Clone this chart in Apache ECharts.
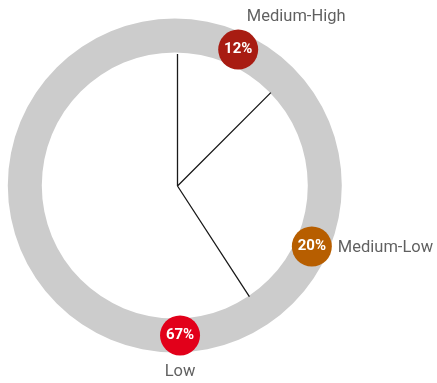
<!DOCTYPE html>
<html>
<head>
<meta charset="utf-8">
<script src="https://cdn.jsdelivr.net/npm/echarts@6/dist/echarts.min.js"></script>
<style>
  html, body { margin: 0; padding: 0; background: #ffffff; }
  #chart { width: 437px; height: 383px; }
</style>
</head>
<body>
<div id="chart"></div>
<script>
// Risk categories and their shares (percent)
const categories = ['Medium-High', 'Medium-Low', 'Low'];
const shares = [12, 20, 67];
// Where each badge sits on the ring, degrees clockwise from 12 o'clock
const badgeAngles = [25, 114, 178];
// Spokes drawn inside the ring, degrees clockwise from 12 o'clock
const spokeAngles = [0, 45, 147];

const badgeColors = ['#a81c12', '#b75e00', '#e2001a'];
const RING_OUTER = 167;
const RING_INNER = 133;
const RING_MID = (RING_OUTER + RING_INNER) / 2;
const FONT = 'Roboto, "Open Sans", sans-serif';

// Name label placement around each badge
const namePlacement = [
  { position: 'top', distance: 4, offset: [58, 0] },
  { position: 'right', distance: 6, offset: [0, 1] },
  { position: 'bottom', distance: 8, offset: [0, 0] }
];

const chart = echarts.init(document.getElementById('chart'), null, { renderer: 'canvas' });

// Spoke path: each tip on the ring joined back through the hub
const spokeData = [];
spokeAngles.forEach(function (a) {
  spokeData.push([RING_INNER - 1, a]);
  spokeData.push([0, a]);
});

const badgeData = categories.map(function (name, i) {
  return {
    name: name,
    value: [RING_MID, badgeAngles[i], shares[i]],
    itemStyle: { color: badgeColors[i], opacity: 1 }
  };
});

const nameData = categories.map(function (name, i) {
  return {
    name: name,
    value: [RING_MID, badgeAngles[i]],
    label: Object.assign({}, namePlacement[i])
  };
});

const polarAxes = function (idx, maxR) {
  return {
    angle: { polarIndex: idx, type: 'value', min: 0, max: 360, startAngle: 90, clockwise: true, show: false },
    radius: { polarIndex: idx, type: 'value', min: 0, max: maxR, show: false }
  };
};
const p0 = polarAxes(0, RING_OUTER);
const p1 = polarAxes(1, RING_OUTER);

chart.setOption({
  backgroundColor: '#ffffff',
  animation: false,
  polar: [
    { center: [174.8, 185.5], radius: RING_OUTER },
    { center: [177.5, 186], radius: RING_OUTER }
  ],
  angleAxis: [p0.angle, p1.angle],
  radiusAxis: [p0.radius, p1.radius],
  series: [
    {
      type: 'pie',
      center: [174.8, 185.5],
      radius: [RING_INNER, RING_OUTER],
      silent: true,
      label: { show: false },
      labelLine: { show: false },
      itemStyle: { color: '#cccccc' },
      data: [{ value: 1, name: 'ring' }],
      z: 1
    },
    {
      type: 'line',
      coordinateSystem: 'polar',
      polarIndex: 1,
      data: spokeData,
      symbol: 'none',
      lineStyle: { color: '#1a1a1a', width: 1.3 },
      silent: true,
      z: 2
    },
    {
      type: 'scatter',
      coordinateSystem: 'polar',
      polarIndex: 0,
      symbol: 'circle',
      symbolSize: 40,
      data: badgeData,
      label: {
        show: true,
        position: 'inside',
        color: '#ffffff',
        fontFamily: FONT,
        fontWeight: 'bold',
        fontSize: 15,
        formatter: function (p) { return p.value[2] + '%'; }
      },
      z: 3
    },
    {
      type: 'scatter',
      coordinateSystem: 'polar',
      polarIndex: 0,
      symbol: 'circle',
      symbolSize: 40,
      itemStyle: { color: 'rgba(0,0,0,0)' },
      data: nameData,
      silent: true,
      label: {
        show: true,
        color: '#383838',
        fontFamily: FONT,
        fontSize: 16.5,
        formatter: '{b}'
      },
      z: 4
    }
  ]
});
</script>
</body>
</html>
